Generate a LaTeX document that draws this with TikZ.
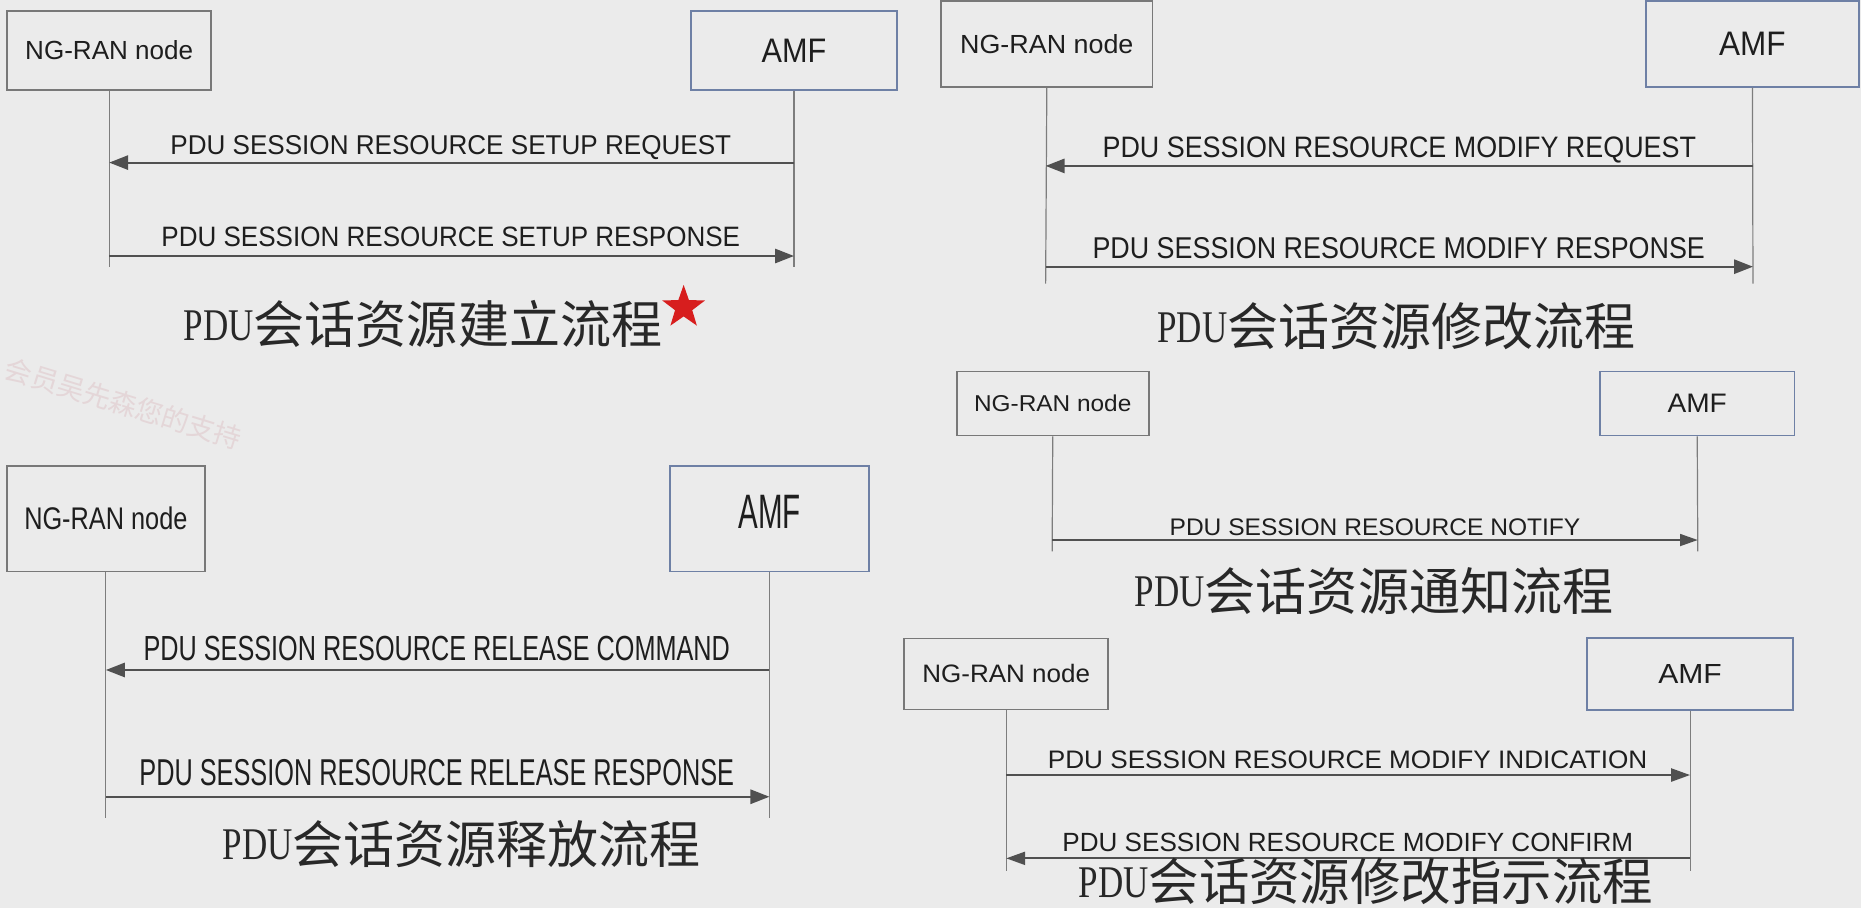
\documentclass[tikz,border=0pt]{standalone}
\usepackage{fontspec}
\usepackage{graphicx}
\setmainfont{Liberation Serif}
\setsansfont{Liberation Sans}
\newfontfamily\cjk{Noto Sans CJK SC}
\usetikzlibrary{arrows.meta,shapes.geometric}
\definecolor{bg}{RGB}{235,235,235}
\definecolor{ngline}{RGB}{120,120,120}
\definecolor{amfline}{RGB}{110,128,165}
\definecolor{life}{RGB}{125,125,125}
\definecolor{msg}{RGB}{80,80,80}
\definecolor{txt}{RGB}{30,30,30}
\definecolor{ttltxt}{RGB}{40,40,40}
\definecolor{wm}{RGB}{228,214,216}
\definecolor{starred}{RGB}{215,30,30}
\newcommand\fitt[3]{\resizebox{#1pt}{#2pt}{\sffamily #3}}
\newcommand\ttl[2]{\resizebox{59pt}{25pt}{\rmfamily PDU}\raisebox{-3pt}{\resizebox{#1pt}{!}{\cjk #2}}}
\tikzset{
  ngbox/.style={draw=ngline,line width=1.5pt,inner sep=0pt,text=txt},
  amfbox/.style={draw=amfline,line width=1.5pt,inner sep=0pt,text=txt},
  lifeline/.style={draw=life,line width=1pt},
  msgline/.style={draw=msg,line width=1.8pt,-{Triangle[length=16pt,width=12pt]},color=msg},
  msglab/.style={anchor=base,inner sep=0pt,text=txt},
  ttlnode/.style={anchor=base west,inner sep=0pt,text=ttltxt},
}
\begin{document}
\begin{tikzpicture}[x=1pt,y=-1pt]
\useasboundingbox (0,0) rectangle (1568,765);
\fill[bg] (0,0) rectangle (1568,765);

% watermark
\node[text=wm,rotate=-17,inner sep=0pt] (wm) at (104,340) {\fontsize{23pt}{23pt}\cjk 会员吴先森您的支持};

% ---------- Diagram 1: setup ----------
\node[ngbox,minimum width=172pt,minimum height=67pt] (n1) at (92,42.5) {\fitt{141.5}{16}{NG-RAN node}};
\node[amfbox,minimum width=174pt,minimum height=67pt] (a1) at (669,42.5) {\fitt{54.5}{19.7}{AMF}};
\coordinate (n1e) at (92,225);
\coordinate (a1e) at (669,225);
\draw[lifeline] (n1.south) -- (n1e);
\draw[lifeline] (a1.south) -- (a1e);
\coordinate (n1m1) at (92,137);
\coordinate (a1m1) at (669,137);
\coordinate (n1m2) at (92,215.7);
\coordinate (a1m2) at (669,215.7);
\draw[msgline] (a1m1) -- (n1m1);
\draw[msgline] (n1m2) -- (a1m2);
\node[msglab] (l1a) at (379.8,129.8) {\fitt{472.5}{16}{PDU SESSION RESOURCE SETUP REQUEST}};
\node[msglab] (l1b) at (379.8,207.9) {\fitt{487.5}{16.5}{PDU SESSION RESOURCE SETUP RESPONSE}};
\node[ttlnode] (t1) at (154.7,286.5) {\ttl{344}{会话资源建立流程}};
\node[star,star points=5,star point ratio=2.5,fill=starred,inner sep=0pt,minimum size=38pt] (s1) at (576,259) {};

% ---------- Diagram 2: modify ----------
\node[ngbox,minimum width=178pt,minimum height=72pt] (n2) at (882,37) {\fitt{146}{16}{NG-RAN node}};
\node[amfbox,minimum width=179pt,minimum height=72pt] (a2) at (1476.5,37) {\fitt{56}{19.7}{AMF}};
\coordinate (n2e) at (881,239);
\coordinate (a2e) at (1477,239);
\draw[lifeline] (n2.south) -- (n2e);
\draw[lifeline] (a2.south) -- (a2e);
\coordinate (n2m1) at (881,139.8);
\coordinate (a2m1) at (1477,139.8);
\coordinate (n2m2) at (881,224.7);
\coordinate (a2m2) at (1477,224.7);
\draw[msgline] (a2m1) -- (n2m1);
\draw[msgline] (n2m2) -- (a2m2);
\node[msglab] (l2a) at (1179,132.6) {\fitt{500}{17.4}{PDU SESSION RESOURCE MODIFY REQUEST}};
\node[msglab] (l2b) at (1178.5,217.7) {\fitt{516}{17.7}{PDU SESSION RESOURCE MODIFY RESPONSE}};
\node[ttlnode] (t2) at (975,288.5) {\ttl{344}{会话资源修改流程}};

% ---------- Diagram 3: notify ----------
\node[ngbox,minimum width=162pt,minimum height=54pt] (n3) at (887,340) {\fitt{132.5}{14}{NG-RAN node}};
\node[amfbox,minimum width=164pt,minimum height=54pt] (a3) at (1430,340) {\fitt{50}{15.5}{AMF}};
\coordinate (n3e) at (886.5,464.5);
\coordinate (a3e) at (1430.5,464.5);
\draw[lifeline] (n3.south) -- (n3e);
\draw[lifeline] (a3.south) -- (a3e);
\coordinate (n3m1) at (886.5,455);
\coordinate (a3m1) at (1430.5,455);
\draw[msgline,-{Triangle[length=15pt,width=10pt]}] (n3m1) -- (a3m1);
\node[msglab] (l3a) at (1158.5,450.8) {\fitt{346}{14.1}{PDU SESSION RESOURCE NOTIFY}};
\node[ttlnode] (t3) at (956,511) {\ttl{344}{会话资源通知流程}};

% ---------- Diagram 4: release ----------
\node[ngbox,minimum width=166.4pt,minimum height=89.1pt] (n4) at (89.2,436.9) {\fitt{137.5}{19.1}{NG-RAN node}};
\node[amfbox,minimum width=167.4pt,minimum height=89.1pt] (a4) at (648.3,436.9) {};
\node[inner sep=0pt,text=txt] (a4t) at (648.6,431.7) {\fitt{52.5}{28}{AMF}};
\coordinate (n4e) at (89.2,688.8);
\coordinate (a4e) at (648.3,688.8);
\draw[lifeline] (n4.south) -- (n4e);
\draw[lifeline] (a4.south) -- (a4e);
\coordinate (n4m1) at (89.2,564.5);
\coordinate (a4m1) at (648.3,564.5);
\coordinate (n4m2) at (89.2,671.3);
\coordinate (a4m2) at (648.3,671.3);
\draw[msgline] (a4m1) -- (n4m1);
\draw[msgline] (n4m2) -- (a4m2);
\node[msglab] (l4a) at (368,556.1) {\fitt{494}{20.5}{PDU SESSION RESOURCE RELEASE COMMAND}};
\node[msglab] (l4b) at (368,662) {\fitt{501}{22}{PDU SESSION RESOURCE RELEASE RESPONSE}};
\node[ttlnode] (t4) at (187.4,724.5) {\ttl{344}{会话资源释放流程}};

% ---------- Diagram 5: modify indication ----------
\node[ngbox,minimum width=172.1pt,minimum height=59.8pt] (n5) at (847.8,567.8) {\fitt{141.3}{15.4}{NG-RAN node}};
\node[amfbox,minimum width=174pt,minimum height=60.4pt] (a5) at (1424,567.8) {\fitt{53.5}{16}{AMF}};
\coordinate (n5e) at (847.8,734);
\coordinate (a5e) at (1424,734);
\draw[lifeline] (n5.south) -- (n5e);
\draw[lifeline] (a5.south) -- (a5e);
\coordinate (n5m1) at (847.8,653);
\coordinate (a5m1) at (1424,653);
\coordinate (n5m2) at (847.8,723.2);
\coordinate (a5m2) at (1424,723.2);
\draw[msgline,-{Triangle[length=16pt,width=11pt]}] (n5m1) -- (a5m1);
\draw[msgline,-{Triangle[length=16pt,width=11pt]}] (a5m2) -- (n5m2);
\node[msglab] (l5a) at (1135.4,647.4) {\fitt{505}{14.9}{PDU SESSION RESOURCE MODIFY INDICATION}};
\node[msglab] (l5b) at (1135.6,717.6) {\fitt{480.8}{15.5}{PDU SESSION RESOURCE MODIFY CONFIRM}};
\node[ttlnode] (t5) at (908.6,756) {\ttl{425}{会话资源修改指示流程}};
\end{tikzpicture}
\end{document}
